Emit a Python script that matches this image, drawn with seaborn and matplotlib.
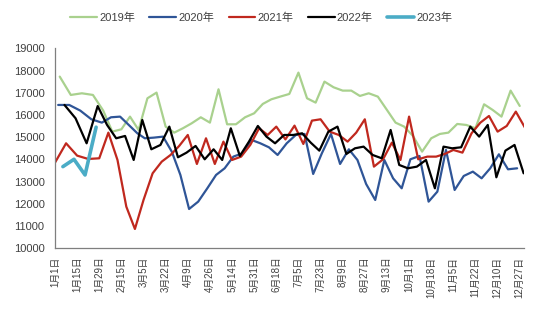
import re
import numpy as np
import pandas as pd
import matplotlib
matplotlib.use('Agg')
import matplotlib.pyplot as plt
import seaborn as sns

# ---- data -------------------------------------------------------------
tick_labels = ['1月1日', '1月15日', '1月29日', '2月15日', '3月5日', '3月22日',
               '4月9日', '4月26日', '5月14日', '5月31日', '6月18日', '7月5日',
               '7月23日', '8月9日', '8月27日', '9月13日', '10月1日', '10月18日',
               '11月5日', '11月22日', '12月10日', '12月27日']

years = ['2019年', '2020年', '2021年', '2022年', '2023年']

v2019 = [17725, 16900, 16975, 16900, 16200, 15250, 15355, 15925, 15325, 16750,
         17005, 15475, 15205, 15400, 15625, 15895, 15655, 17155, 15580, 15580,
         15895, 16075, 16495, 16705, 16825, 16945, 17905, 16750, 16555, 17500,
         17245, 17095, 17095, 16855, 16975, 16825, 16225, 15655, 15475, 15055,
         14350, 14950, 15145, 15205, 15595, 15550, 15400, 16480, 16225, 15925,
         17095, 16405]
v2020 = [16450, 16450, 16195, 15805, 15655, 15895, 15925, 15550, 15175, 14950,
         14980, 15025, 14350, 13300, 11770, 12100, 12700, 13300, 13600, 14125,
         14275, 14875, 14725, 14545, 14200, 14725, 15100, 15145, 13345, 14275,
         15145, 13795, 14455, 13975, 12895, 12175, 13975, 13150, 12700, 14005,
         14155, 12100, 12550, 14425, 12625, 13255, 13450, 13150, 13600, 14230,
         13555, 13600]
v2021 = [13855, 14725, 14170, 14020, 14050, 15205, 13975, 11875, 10870, 12175,
         13375, 13900, 14200, 14605, 15100, 13795, 14950, 13795, 14800, 13975,
         14125, 14650, 15400, 15100, 15475, 14900, 15520, 14695, 15745, 15805,
         15250, 15100, 14800, 15205, 15805, 13675, 14005, 14755, 13975, 15925,
         14005, 14125, 14125, 14245, 14425, 14305, 15175, 15655, 15955, 15250,
         15505, 16150, 15430]
v2022 = [16450, 15850, 14725, 16400, 15550, 14950, 15055, 13975, 15775, 14455,
         14650, 15475, 14095, 14305, 14605, 14005, 14455, 13975, 15400, 14155,
         14800, 15505, 15025, 14725, 15100, 15100, 15175, 14755, 14395, 15250,
         15475, 14245, 14500, 14575, 14200, 14050, 15325, 13750, 13600, 13675,
         13975, 12700, 14575, 14500, 14545, 15475, 15025, 15550, 13195, 14395,
         14650, 13375]
v2023 = [13675, 14005, 13300, 15450]

series = [v2019, v2020, v2021, v2022, v2023]
colors = ['#A9D18E', '#2F5597', '#C0281E', '#000000', '#4BACC6']
widths = [1.6, 1.6, 1.6, 1.6, 2.6]

# ---- style -------------------------------------------------------------
sns.set_theme(style='white')
plt.rcParams['font.family'] = ['Liberation Sans', 'Noto Sans CJK SC']

ref = pd.Timestamp('2021-01-01')


def day_of_year(month, day):
    return (pd.Timestamp(2021, month, day) - ref).days


tick_days = np.array([day_of_year(*map(int, re.findall(r'\d+', s))) for s in tick_labels], float)
tick_pos = np.arange(len(tick_labels), dtype=float)


def to_pos(dates):
    d = np.array([day_of_year(t.month, t.day) for t in dates], float)
    p = np.interp(d, tick_days, tick_pos)
    slope = 1.0 / (tick_days[-1] - tick_days[-2])
    over = d > tick_days[-1]
    p[over] = tick_pos[-1] + (d[over] - tick_days[-1]) * slope
    return p


frames = []
for year, vals in zip(years, series):
    y = int(year[:4])
    dates = pd.date_range(f'{y}-01-01', f'{y}-12-31', freq='W-FRI')[:len(vals)]
    frames.append(pd.DataFrame({'pos': to_pos(dates), 'value': vals, 'year': year}))
df = pd.concat(frames, ignore_index=True)

fig = plt.figure(figsize=(5.5, 3.24), dpi=100)
ax = fig.add_axes([0.1, 0.2336, 0.853, 0.6174])

for year, color, lw in zip(years, colors, widths):
    sns.lineplot(data=df[df['year'] == year], x='pos', y='value', color=color,
                 linewidth=lw, ax=ax, label=year, sort=False, estimator=None)

ax.set_ylim(10000, 19000)
ax.set_yticks(np.arange(10000, 19001, 1000))
ax.set_xlim(0, 21.2)
ax.set_xticks(tick_pos)
ax.set_xticklabels(tick_labels, rotation=90, fontsize=7)
ax.set_xlabel('')
ax.set_ylabel('')

for s in ['top', 'right']:
    ax.spines[s].set_visible(False)
for s in ['left', 'bottom']:
    ax.spines[s].set_color('#7f7f7f')
    ax.spines[s].set_linewidth(0.9)

ax.tick_params(axis='both', which='both', direction='out', length=4, width=0.9,
               color='#7f7f7f', labelcolor='#404040')
ax.tick_params(axis='y', labelsize=8)
ax.tick_params(axis='x', pad=2)

leg = ax.legend(loc='center', bbox_to_anchor=(0.475, 0.944), bbox_transform=fig.transFigure,
                ncol=5, frameon=False, fontsize=8, handlelength=2.4, handletextpad=0.2,
                columnspacing=1.3)
for t in leg.get_texts():
    t.set_color('#404040')

fig.savefig('out.png', dpi=100)
